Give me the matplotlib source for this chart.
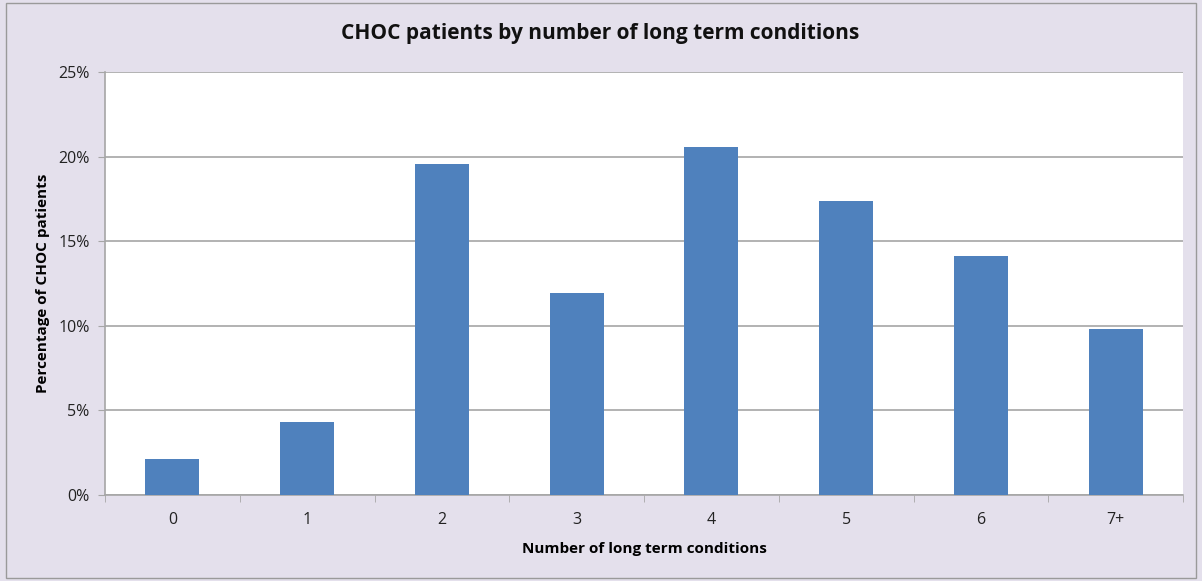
import matplotlib.pyplot as plt
from matplotlib.patches import Rectangle
from matplotlib.ticker import FuncFormatter, FixedLocator

plt.rcParams["font.family"] = ["Open Sans", "DejaVu Sans"]

categories = ["0", "1", "2", "3", "4", "5", "6", "7+"]
percentages = [2.13, 4.31, 19.56, 11.94, 20.57, 17.38, 14.13, 9.81]

g_bg = "#E4E0EC"
g_bar = "#4F81BD"
g_grid = "#A6A6A6"
W, H = 1202, 581


def main():
    fig = plt.figure(figsize=(W / 100, H / 100), dpi=100)
    fig.patch.set_facecolor(g_bg)

    # outer chart frame
    fig.patches.append(Rectangle((6 / W, 1 - 578 / H), 1190 / W, 575 / H,
                                 transform=fig.transFigure, fill=False,
                                 edgecolor="#9A9A9A", linewidth=1.0))

    ax = fig.add_axes([105 / W, 1 - 495 / H, (1183 - 105) / W, (495 - 72) / H])
    ax.set_facecolor("white")

    x = range(len(categories))
    ax.bar(x, percentages, width=0.40, color=g_bar, zorder=3)

    ax.set_xlim(-0.5, len(categories) - 0.5)
    ax.set_ylim(0, 25)
    ax.set_yticks([0, 5, 10, 15, 20, 25])
    ax.yaxis.set_major_formatter(FuncFormatter(lambda v, p: f"{v:.0f}%"))
    ax.yaxis.grid(True, color=g_grid, linewidth=1.2, zorder=0)

    ax.set_xticks(list(x))
    ax.set_xticklabels(categories)
    ax.xaxis.set_minor_locator(FixedLocator([i - 0.5 for i in range(len(categories) + 1)]))
    ax.tick_params(axis="x", which="major", length=0, pad=12, labelsize=11.5, colors="#222222")
    ax.tick_params(axis="x", which="minor", length=5, color=g_grid, direction="out")
    ax.tick_params(axis="y", length=5, color=g_grid, pad=6, labelsize=11.5, colors="#222222")

    for side in ["top", "right"]:
        ax.spines[side].set_visible(False)
    for side in ["left", "bottom"]:
        ax.spines[side].set_color(g_grid)
        ax.spines[side].set_linewidth(1.2)

    ax.set_xlabel("Number of long term conditions", fontsize=11, fontweight="bold", labelpad=10)
    ax.set_ylabel("Percentage of CHOC patients", fontsize=11, fontweight="bold", labelpad=6)

    fig.text(600 / W, 1 - 33 / H, "CHOC patients by number of long term conditions",
             ha="center", va="center", fontsize=15, fontweight="bold", color="#111111")

    plt.savefig("out.png", dpi=100, facecolor=g_bg)


if __name__ == "__main__":
    main()
